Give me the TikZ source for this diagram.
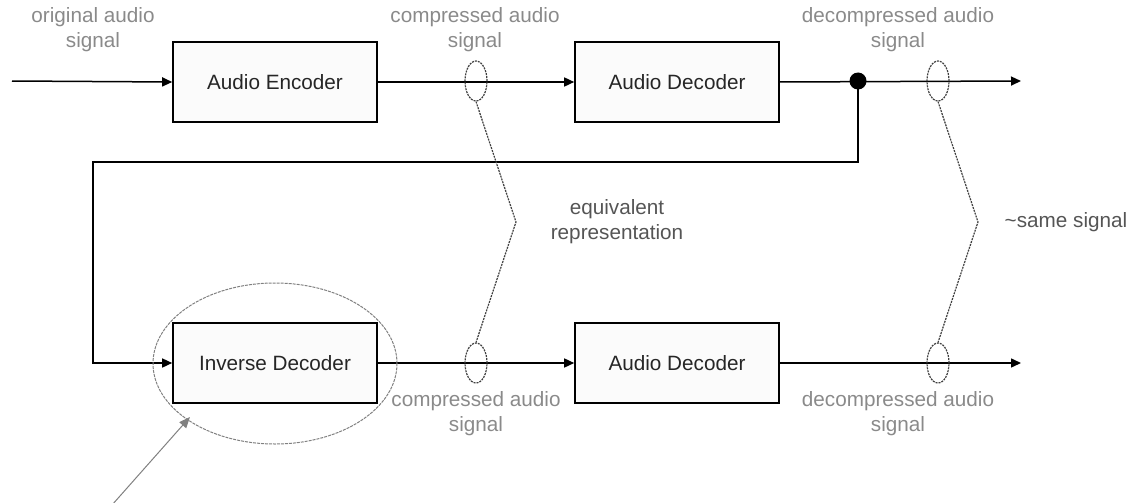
\documentclass[tikz,border=0pt]{standalone}
\usepackage{fontspec}
\setmainfont{Liberation Sans}
\usetikzlibrary{arrows.meta,shapes.geometric}
\definecolor{lbl}{HTML}{8A8A8A}
\definecolor{dlbl}{HTML}{555555}
\definecolor{boxfill}{HTML}{FBFBFB}
\tikzset{
  blk/.style={draw=black, line width=1.6pt, fill=boxfill, minimum width=204pt, minimum height=80pt, inner sep=0pt, text=black!85, font=\fontsize{20.7}{25}\selectfont},
  sig/.style={line width=1.5pt, -{Triangle[length=10pt,width=9pt]}},
  lab/.style={text=lbl, align=center, inner sep=0pt, font=\fontsize{20.7}{25}\selectfont},
  dlab/.style={text=dlbl, align=center, inner sep=0pt, font=\fontsize{20.7}{25}\selectfont},
  ring/.style={ellipse, draw=black!75, dash pattern=on 2pt off 1pt, line width=1.2pt, minimum width=22pt, minimum height=40pt, inner sep=0pt},
  zig/.style={draw=black!75, dash pattern=on 2pt off 1pt, line width=1.2pt},
}
\begin{document}
\begin{tikzpicture}[x=1pt,y=-1pt]
\useasboundingbox (0,0) rectangle (1132,503);
% blocks
\node[blk] (enc) at (275,82) {Audio Encoder};
\node[blk] (dec1) at (677,82) {Audio Decoder};
\node[blk] (inv) at (275,363) {Inverse Decoder};
\node[blk] (dec2) at (677,363) {Audio Decoder};
% coordinates
\coordinate (in) at (12,81);
\coordinate (out1) at (1021,81);
\coordinate (out2) at (1021,363);
\coordinate (dot) at (858,81);
\coordinate (fb1) at (858,162);
\coordinate (fb2) at (93,162);
\coordinate (fb3) at (93,363);
% signal lines
\draw[sig] (in) -- (enc.west);
\draw[sig] (enc.east) -- (dec1.west);
\draw[sig] (dec1.east) -- (out1);
\draw[sig] (inv.east) -- (dec2.west);
\draw[sig] (dec2.east) -- (out2);
\draw[sig] (dot) -- (fb1) -- (fb2) -- (fb3) -- (inv.west);
\fill[black] (dot) circle (8.5pt);
% rings
\node[ring] (e1) at (476,81) {};
\node[ring] (e3) at (938,81) {};
\node[ring] (e2) at (476,363) {};
\node[ring] (e4) at (938,363) {};
\coordinate (z1) at (516,222);
\coordinate (z2) at (978,222);
\draw[zig] (e1.south) -- (z1) -- (e2.north);
\draw[zig] (e3.south) -- (z2) -- (e4.north);
% highlight ellipse
\node[ellipse, draw=gray, dash pattern=on 3pt off 1pt, line width=1pt, minimum width=244pt, minimum height=161pt, inner sep=0pt] (hl) at (275,363.5) {};
\coordinate (ptr) at (112,505);
\coordinate (ptrtip) at (190,417);
\draw[gray, line width=1pt, -{Triangle[length=11pt,width=9pt]}] (ptr) -- (ptrtip);
% labels
\node[lab] (l1) at (93,30) {original audio\\signal};
\node[lab] (l2) at (475,30) {compressed audio\\signal};
\node[lab] (l3) at (898,30) {decompressed audio\\signal};
\node[lab] (l4) at (476,414) {compressed audio\\signal};
\node[lab] (l5) at (898,414) {decompressed audio\\signal};
\node[dlab] (l6) at (617,222) {equivalent\\representation};
\node[dlab] (l7) at (1066,222) {\textasciitilde same signal};
\end{tikzpicture}
\end{document}
